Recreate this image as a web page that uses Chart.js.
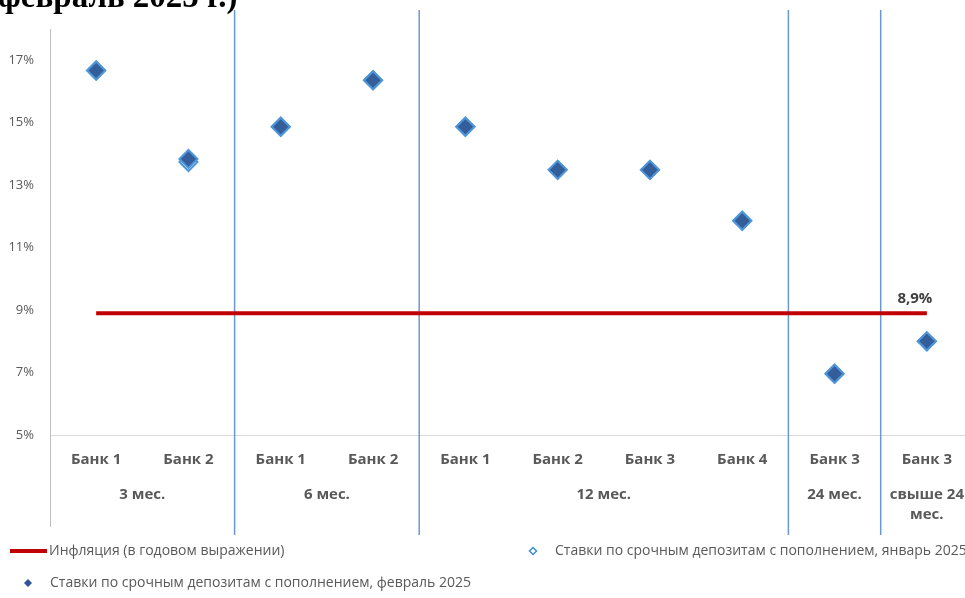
<!DOCTYPE html>
<html>
<head>
<meta charset="utf-8">
<script src="https://cdn.jsdelivr.net/npm/chart.js@4/dist/chart.umd.min.js"></script>
<style>
html,body{margin:0;padding:0;background:#fff;overflow:hidden;}
#wrap{position:absolute;left:0;top:0;width:975px;height:598px;}
#c{display:block;width:975px;height:598px;}
</style>
</head>
<body>
<div id="wrap"><canvas id="c" width="975" height="598" style="width:975px;height:598px"></canvas></div>
<script>
const titleText = "февраль 2025 г.)";
const categories = ["Банк 1","Банк 2","Банк 1","Банк 2","Банк 1","Банк 2","Банк 3","Банк 4","Банк 3","Банк 3"];
const groupLabels = [["3 мес."],["6 мес."],["12 мес."],["24 мес."],["свыше 24","мес."]];
const groupSizes = [2,2,4,1,1];
const inflation = [8.9,8.9,8.9,8.9,8.9,8.9,8.9,8.9,8.9,8.9];
const ratesJan = [16.67,13.74,14.87,16.36,14.87,13.49,13.49,11.86,6.96,8.0];
const ratesFeb = [16.67,13.84,14.87,16.36,14.87,13.49,13.49,11.86,6.96,8.0];
const yTicks = [5,7,9,11,13,15,17];
const inflationLabel = "8,9%";
const legendLabels = ["Инфляция (в годовом выражении)",
  "Ставки по срочным депозитам с пополнением, январь 2025",
  "Ставки по срочным депозитам с пополнением, февраль 2025"];

const GRAY = '#595959';
const FONT = "'Open Sans', sans-serif";

function diamond(ctx, x, y, r) {
  ctx.beginPath();
  ctx.moveTo(x - r, y); ctx.lineTo(x, y - r); ctx.lineTo(x + r, y); ctx.lineTo(x, y + r);
  ctx.closePath();
}

const extras = {
  id: 'extras',
  beforeDatasetsDraw(chart) {
    const ctx = chart.ctx, xs = chart.scales.x;
    ctx.save();
    ctx.strokeStyle = '#6A98D0';
    ctx.lineWidth = 1.5;
    let idx = 0;
    groupSizes.forEach((n, g) => {
      if (g > 0) {
        const bx = (xs.getPixelForValue(idx - 1) + xs.getPixelForValue(idx)) / 2;
        ctx.beginPath(); ctx.moveTo(bx, 10); ctx.lineTo(bx, 535); ctx.stroke();
      }
      idx += n;
    });
    ctx.restore();
  },
  afterDraw(chart) {
    const ctx = chart.ctx, xs = chart.scales.x, ca = chart.chartArea;
    ctx.save();
    ctx.strokeStyle = '#BFBFBF'; ctx.lineWidth = 1;
    ctx.beginPath(); ctx.moveTo(ca.left + 0.5, ca.bottom); ctx.lineTo(ca.left + 0.5, 527); ctx.stroke();
    ctx.fillStyle = GRAY;
    ctx.font = "bold 15px " + FONT;
    ctx.textAlign = 'center'; ctx.textBaseline = 'middle';
    categories.forEach((c, i) => ctx.fillText(c, xs.getPixelForValue(i), 460));
    let idx = 0;
    groupSizes.forEach((n, g) => {
      const cx = (xs.getPixelForValue(idx) + xs.getPixelForValue(idx + n - 1)) / 2;
      groupLabels[g].forEach((t, k) => ctx.fillText(t, cx, 495 + k * 20));
      idx += n;
    });
    const meta = chart.getDatasetMeta(2);
    const pt = meta.data[meta.data.length - 1];
    ctx.fillStyle = '#404040';
    ctx.font = "bold 15px " + FONT;
    ctx.fillText(inflationLabel, pt.x - 12, pt.y - 14);
    ctx.font = "14px " + FONT;
    ctx.textAlign = 'left';
    ctx.fillStyle = GRAY;
    ctx.strokeStyle = '#C00000'; ctx.lineWidth = 4;
    ctx.beginPath(); ctx.moveTo(10, 551); ctx.lineTo(47, 551); ctx.stroke();
    ctx.fillText(legendLabels[0], 49, 551);
    diamond(ctx, 533, 551, 3.5);
    ctx.fillStyle = '#fff'; ctx.fill();
    ctx.strokeStyle = '#3B8EDB'; ctx.lineWidth = 1.5; ctx.stroke();
    ctx.fillStyle = GRAY;
    ctx.fillText(legendLabels[1], 555, 551);
    diamond(ctx, 28, 583, 4);
    ctx.fillStyle = '#2F5597'; ctx.fill();
    ctx.fillStyle = GRAY;
    ctx.fillText(legendLabels[2], 50, 583);
    ctx.fillStyle = '#000';
    ctx.font = "bold 33px 'Liberation Serif', serif";
    ctx.textBaseline = 'alphabetic';
    ctx.fillText(titleText, -2, 7);
    ctx.restore();
  }
};

new Chart(document.getElementById('c'), {
  type: 'line',
  data: {
    labels: categories,
    datasets: [
      {
        label: legendLabels[2], data: ratesFeb, showLine: false, order: 0,
        pointStyle: 'rectRot', pointRadius: 9, pointHoverRadius: 9,
        pointBackgroundColor: '#335E99', pointBorderColor: '#4E95D9', pointBorderWidth: 2
      },
      {
        label: legendLabels[1], data: ratesJan, showLine: false, order: 1,
        pointStyle: 'rectRot', pointRadius: 9, pointHoverRadius: 9,
        pointBackgroundColor: '#ffffff', pointBorderColor: '#4E95D9', pointBorderWidth: 2
      },
      {
        label: legendLabels[0], data: inflation, order: 2,
        borderColor: '#C00000', borderWidth: 4, pointRadius: 0, tension: 0, fill: false
      }
    ]
  },
  options: {
    responsive: false,
    animation: false,
    devicePixelRatio: 1,
    layout: { autoPadding: false, padding: { top: 29, right: 2, left: 0, bottom: 0 } },
    plugins: { legend: { display: false }, tooltip: { enabled: false } },
    scales: {
      x: {
        offset: true,
        grid: { display: false, drawTicks: false, offset: true },
        border: { display: true, color: '#D9D9D9', width: 1 },
        ticks: { display: false },
        afterFit(s) { s.height = 163; }
      },
      y: {
        min: 5, max: 18,
        grid: { display: false, drawTicks: false },
        border: { display: true, color: '#BFBFBF', width: 1 },
        ticks: { color: GRAY, font: { family: FONT, size: 13 }, padding: 16, callback: v => v + '%' },
        afterBuildTicks(s) { s.ticks = yTicks.map(v => ({ value: v })); },
        afterFit(s) { s.width = 50; }
      }
    }
  },
  plugins: [extras]
});
</script>
</body>
</html>
